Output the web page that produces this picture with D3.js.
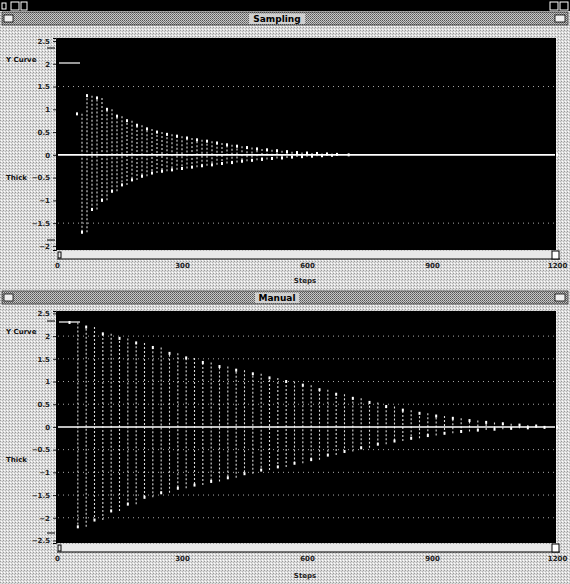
<!DOCTYPE html>
<html><head><meta charset="utf-8">
<script src="https://cdn.jsdelivr.net/npm/d3@7"></script>
<style>body{margin:0;background:#fff}svg{display:block}text{font-family:"DejaVu Sans",sans-serif}</style>
</head><body>
<script>
// ---- data ----
const xTicks = [0, 300, 600, 900, 1200];
const topYTicks = [2.5, 2, 1.5, 1, 0.5, 0, -0.5, -1, -1.5, -2];
const bottomYTicks = [2.5, 2, 1.5, 1, 0.5, 0, -0.5, -1, -1.5, -2, -2.5];
const topGrid = [1.5, -1.5];
const bottomGrid = [2, 1.5, 1, 0.5, -0.5, -1, -1.5, -2];
const panelTitles = ["Sampling", "Manual"];
const xTitle = "Steps";
const seriesLabels = ["Y Curve", "Thick"];

const topSteps = [48,60,72,84,96,108,120,132,144,156,168,180,192,204,216,228,240,252,264,276,288,300,312,324,336,348,360,372,384,396,408,420,432,444,456,468,480,492,504,516,528,540,552,564,576,588,600,612,624,636,648,660,672,700,1200];
const topValues = [0.9,-1.7,1.3,-1.2,1.25,-1.0,1.0,-0.8,0.85,-0.66,0.75,-0.55,0.65,-0.47,0.57,-0.4,0.5,-0.36,0.45,-0.33,0.41,-0.3,0.37,-0.27,0.33,-0.24,0.3,-0.22,0.26,-0.19,0.22,-0.17,0.19,-0.14,0.16,-0.12,0.13,-0.1,0.11,-0.08,0.09,-0.07,0.07,-0.05,0.05,-0.04,0.04,-0.03,0.03,-0.02,0.02,-0.01,0.01,0,0];

const bottomSteps = [30,50,70,90,110,130,150,170,190,210,230,250,270,290,310,330,350,370,390,410,430,450,470,490,510,530,550,570,590,610,630,650,670,690,710,730,750,770,790,810,830,850,870,890,910,930,950,970,990,1010,1030,1050,1070,1090,1110,1130,1150,1170,1200];
const bottomValues = [2.3,-2.2,2.2,-2.05,2.05,-1.85,1.95,-1.7,1.85,-1.55,1.75,-1.45,1.62,-1.35,1.52,-1.28,1.42,-1.2,1.33,-1.12,1.25,-1.03,1.17,-0.95,1.08,-0.88,1.0,-0.8,0.92,-0.72,0.82,-0.62,0.72,-0.54,0.63,-0.46,0.54,-0.38,0.45,-0.31,0.37,-0.25,0.3,-0.19,0.24,-0.14,0.19,-0.1,0.14,-0.07,0.1,-0.05,0.07,-0.03,0.04,-0.02,0.02,-0.01,0];

// ---- drawing ----
const W = 570, H = 584;
const svg = d3.select("body").append("svg").attr("width", W).attr("height", H);
const defs = svg.append("defs");
const pBg = defs.append("pattern").attr("id","dith").attr("width",3).attr("height",3).attr("patternUnits","userSpaceOnUse");
pBg.append("rect").attr("width",3).attr("height",3).attr("fill","#dcdcdc");
pBg.append("rect").attr("x",0).attr("y",0).attr("width",1).attr("height",1).attr("fill","#9a9a9a");
pBg.append("rect").attr("x",2).attr("y",1).attr("width",1).attr("height",1).attr("fill","#b5b5b5");
pBg.append("rect").attr("x",1).attr("y",2).attr("width",1).attr("height",1).attr("fill","#fff");
const pBar = defs.append("pattern").attr("id","hatch").attr("width",2).attr("height",2).attr("patternUnits","userSpaceOnUse");
pBar.append("rect").attr("width",2).attr("height",2).attr("fill","#c8c8c8");
pBar.append("rect").attr("width",1).attr("height",1).attr("fill","#555");
pBar.append("rect").attr("x",1).attr("y",1).attr("width",1).attr("height",1).attr("fill","#777");

svg.append("rect").attr("width",W).attr("height",H).attr("fill","url(#dith)");
// window top bar
svg.append("rect").attr("x",0).attr("y",0).attr("width",W).attr("height",11).attr("fill","#000");
[[2,3,4,6],[11,2,8,8],[21,2,6,8],[550,2,8,8],[560,2,8,8]].forEach(r=>
  svg.append("rect").attr("x",r[0]).attr("y",r[1]).attr("width",r[2]).attr("height",r[3]).attr("fill","none").attr("stroke","#fff").attr("stroke-width",1));

const x = d3.scaleLinear().domain([0,1200]).range([57,557]);

function panel(cfg){
  const g = svg.append("g");
  // title bar
  g.append("rect").attr("x",2).attr("y",cfg.barY).attr("width",W-4).attr("height",13).attr("fill","url(#hatch)").attr("stroke","#333").attr("stroke-width",0.8);
  g.append("rect").attr("x",4).attr("y",cfg.barY+3).attr("width",9).attr("height",7).attr("fill","#eee").attr("stroke","#000").attr("stroke-width",0.8);
  g.append("rect").attr("x",555).attr("y",cfg.barY+3).attr("width",10).attr("height",7).attr("fill","#eee").attr("stroke","#000").attr("stroke-width",0.8);
  const tw = cfg.title.length*6+8;
  g.append("rect").attr("x",W/2-tw/2-8).attr("y",cfg.barY+1.5).attr("width",tw).attr("height",10.5).attr("fill","#cfcfcf");
  g.append("text").attr("x",W/2-8).attr("y",cfg.barY+10).attr("text-anchor","middle").attr("font-size",9).attr("font-weight","bold").attr("fill","#000").text(cfg.title);

  const y = d3.scaleLinear().domain(cfg.domain).range([cfg.bottom, cfg.top]);
  // plot area
  g.append("rect").attr("x",57).attr("y",cfg.top).attr("width",499).attr("height",cfg.bottom-cfg.top).attr("fill","#000");
  // grid
  g.selectAll(".grid").data(cfg.grid).join("line")
    .attr("x1",58).attr("x2",555).attr("y1",d=>y(d)).attr("y2",d=>y(d))
    .attr("stroke","#aaa").attr("stroke-width",1).attr("stroke-dasharray","1,4");
  // zero reference
  g.append("line").attr("x1",58).attr("x2",555).attr("y1",y(0)).attr("y2",y(0)).attr("stroke","#fff").attr("stroke-width",1.6);
  // trace: vertical stems between consecutive samples
  const segs = cfg.steps.slice(1).map((s,i)=>({s, a:cfg.values[i], b:cfg.values[i+1]}));
  g.selectAll(".stem").data(segs).join("line")
    .attr("x1",d=>x(d.s)).attr("x2",d=>x(d.s))
    .attr("y1",d=>y(d.a)).attr("y2",d=>y(d.b))
    .attr("stroke","#fff").attr("stroke-width",1.1).attr("stroke-dasharray","2,2").attr("opacity",0.85);
  // sample marks
  const pts = cfg.steps.map((s,i)=>[s,cfg.values[i]]);
  g.selectAll(".pt").data(pts).join("rect")
    .attr("x",d=>x(d[0])-1).attr("y",d=>y(d[1])-1.5).attr("width",2).attr("height",3).attr("fill","#fff");
  // legend marker at Y Curve
  g.append("line").attr("x1",59).attr("x2",80).attr("y1",cfg.markY).attr("y2",cfg.markY).attr("stroke","#fff").attr("stroke-width",1.2);
  // y axis
  const ya = d3.axisLeft(y).tickValues(cfg.yTicks).tickSize(3).tickFormat(d3.format("~g"));
  const ay = g.append("g").attr("transform","translate(56,0)").call(ya);
  ay.select(".domain").attr("stroke","#000");
  ay.selectAll("text").attr("font-size",7).attr("font-weight","bold").attr("fill","#222");
  ay.selectAll("line").attr("stroke","#222");
  g.append("line").attr("x1",47).attr("x2",55).attr("y1",cfg.top+10).attr("y2",cfg.top+10).attr("stroke","#000");
  g.append("line").attr("x1",47).attr("x2",55).attr("y1",cfg.bottom-10).attr("y2",cfg.bottom-10).attr("stroke","#000");
  // series labels
  g.append("text").attr("x",6).attr("y",cfg.labY[0]).attr("font-size",7).attr("font-weight","bold").attr("fill","#111").text(seriesLabels[0]);
  g.append("text").attr("x",6).attr("y",cfg.labY[1]).attr("font-size",7).attr("font-weight","bold").attr("fill","#111").text(seriesLabels[1]);
  // scrollbar
  const sb = cfg.bottom+1;
  g.append("rect").attr("x",57).attr("y",sb).attr("width",503).attr("height",8).attr("fill","#e8e8e8");
  g.append("line").attr("x1",57).attr("x2",560).attr("y1",sb+8).attr("y2",sb+8).attr("stroke","#000").attr("stroke-width",1.2);
  g.append("rect").attr("x",58).attr("y",sb+1).attr("width",3).attr("height",6).attr("fill","none").attr("stroke","#000");
  g.append("rect").attr("x",552).attr("y",sb).attr("width",7).attr("height",8).attr("fill","#fff").attr("stroke","#000");
  // x axis labels
  const xa = d3.axisBottom(x).tickValues(xTicks).tickSize(0).tickFormat(d3.format("d"));
  const ax = g.append("g").attr("transform",`translate(0,${sb+9})`).call(xa);
  ax.select(".domain").remove();
  ax.selectAll("text").attr("font-size",7).attr("font-weight","bold").attr("fill","#222");
  g.append("text").attr("x",305).attr("y",cfg.xTitleY).attr("text-anchor","middle").attr("font-size",7).attr("font-weight","bold").attr("fill","#222").text(xTitle);
}

panel({title:panelTitles[0], barY:12, top:38, bottom:250, domain:[-2.09,2.566], yTicks:topYTicks, grid:topGrid, steps:topSteps, values:topValues, markY:63, labY:[62,180], xTitleY:283});
panel({title:panelTitles[1], barY:291, top:311, bottom:543, domain:[-2.556,2.553], yTicks:bottomYTicks, grid:bottomGrid, steps:bottomSteps, values:bottomValues, markY:322, labY:[334,462], xTitleY:578});
</script>
</body></html>
